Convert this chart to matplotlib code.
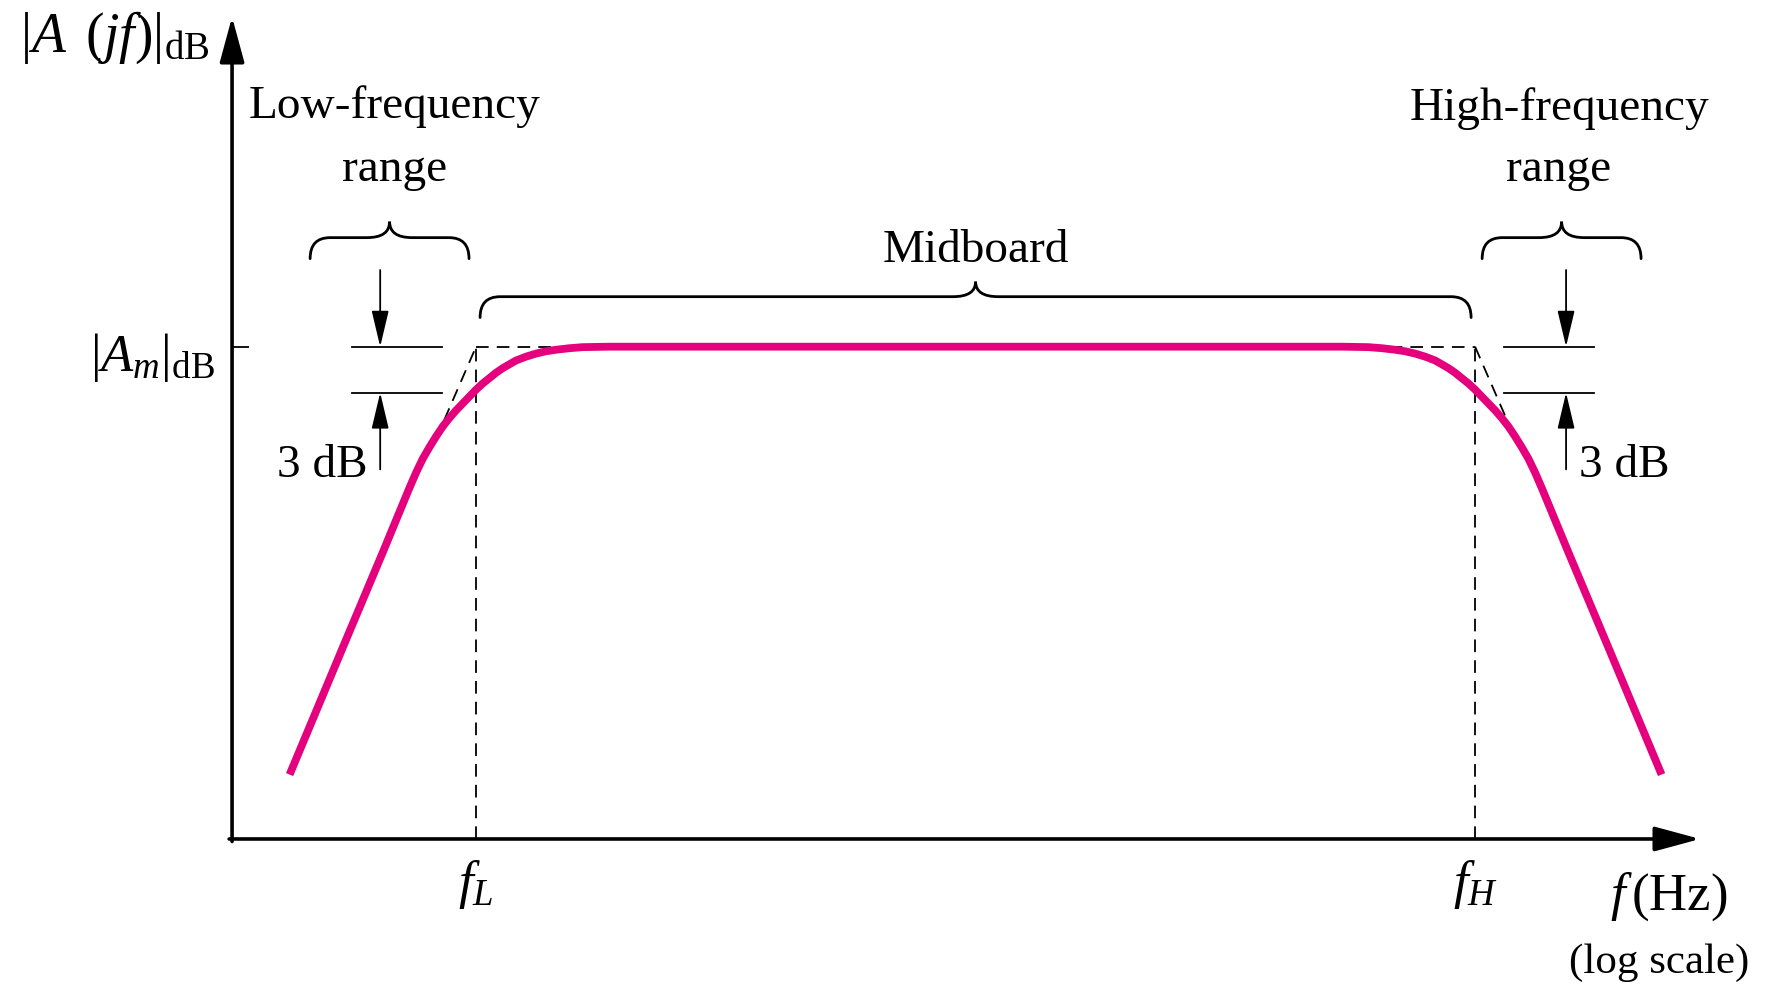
import matplotlib.pyplot as plt
import numpy as np
from matplotlib.patches import PathPatch
from matplotlib.path import Path
from matplotlib.ticker import NullLocator

plt.rcParams["font.family"] = ["Liberation Serif", "DejaVu Serif"]
plt.rcParams["mathtext.fontset"] = "custom"
plt.rcParams["mathtext.rm"] = "Liberation Serif"
plt.rcParams["mathtext.it"] = "Liberation Serif:italic"

# corner frequencies (Hz) and midband gain (dB)
F_L = 1e2
F_H = 10 ** 9.5
A_M = 40.0

# low-frequency skirt: decades from f_L and gain (dB)
LOW_DECADES = [-1.40, -1.00, -0.70, -0.50, -0.45, -0.40, -0.35, -0.30, -0.25,
               -0.20, -0.15, -0.10, -0.05, 0.00, 0.05, 0.10, 0.15, 0.20, 0.25,
               0.30, 0.375, 0.45, 0.525, 0.60, 0.70, 0.80, 1.00]
LOW_GAIN = [12.1, 20.4, 26.6, 30.8, 31.8, 32.7, 33.45, 34.15, 34.8,
            35.35, 35.85, 36.3, 36.75, 37.2, 37.6, 37.95, 38.3, 38.6, 38.85,
            39.1, 39.35, 39.55, 39.7, 39.8, 39.9, 39.97, 40.0]

# high-frequency skirt: decades from f_H and gain (dB)
HIGH_DECADES = [-1.00, -0.80, -0.70, -0.60, -0.525, -0.45, -0.375, -0.30, -0.25,
                -0.20, -0.15, -0.10, -0.05, 0.00, 0.05, 0.10, 0.15, 0.20, 0.25,
                0.30, 0.35, 0.40, 0.45, 0.50, 0.70, 1.00, 1.40]
HIGH_GAIN = [40.0, 39.97, 39.9, 39.8, 39.7, 39.55, 39.35, 39.1, 38.85,
             38.6, 38.3, 37.95, 37.6, 37.2, 36.75, 36.3, 35.85, 35.35, 34.8,
             34.15, 33.45, 32.7, 31.8, 30.8, 26.6, 20.4, 12.1]

FS = 34
FS_MATH = 38
PINK = "#E5007E"

freq = np.concatenate([F_L * 10 ** np.array(LOW_DECADES),
                       F_H * 10 ** np.array(HIGH_DECADES)])
gain = np.array(LOW_GAIN + HIGH_GAIN)

fig = plt.figure(figsize=(17.92, 9.91), dpi=100)
ax = fig.add_axes([0.1295, 0.1534, 0.8192, 0.8295])
ax.set_xscale("log")
ax.set_xlim(F_L * 10 ** -1.832, F_L * 10 ** 9.189)
ax.set_ylim(7.9, 61.5)
for sp in ax.spines.values():
    sp.set_visible(False)
ymin = ax.get_ylim()[0]

# axes with arrow heads
axis_arrow = dict(arrowstyle="-|>,head_length=1.4,head_width=0.38", color="black",
                  lw=2.6, mutation_scale=20, shrinkA=0, shrinkB=0)
ax.annotate("", xy=(1, 0), xytext=(-0.002, 0), xycoords="axes fraction",
            arrowprops=axis_arrow, annotation_clip=False)
ax.annotate("", xy=(0, 1), xytext=(0, -0.003), xycoords="axes fraction",
            arrowprops=axis_arrow, annotation_clip=False)

# ticks: f_L, f_H on x and the midband level on y
ax.set_xticks([F_L, F_H], labels=[r"$f_L$", r"$f_H$"])
ax.xaxis.set_minor_locator(NullLocator())
ax.tick_params(axis="x", length=0, pad=14, labelsize=FS_MATH)
ax.set_yticks([A_M], labels=[""])
ax.tick_params(axis="y", direction="in", length=12, width=1.3)

# asymptotes and corner markers
dash = dict(color="black", lw=1.3, dashes=(7, 4.5), zorder=2)
ax.plot([F_L, F_L], [ymin, A_M], **dash)
ax.plot([F_H, F_H], [ymin, A_M], **dash)
ax.plot([F_L, F_H], [A_M, A_M], **dash)
ax.plot([F_L / 2, F_L], [A_M - 6.02, A_M], **dash)
ax.plot([F_H, F_H * 2], [A_M, A_M - 6.02], **dash)

# response curve
ax.plot(freq, gain, color=PINK, lw=5.6, solid_capstyle="butt",
        solid_joinstyle="round", zorder=3)

small_arrow = dict(arrowstyle="-|>,head_length=1.6,head_width=0.38", color="black",
                   lw=1.3, mutation_scale=14, shrinkA=0, shrinkB=0)


def three_db(f_lo, f_hi, f_arrow, f_text, ha):
    for level in (A_M, A_M - 3):
        ax.plot([f_lo, f_hi], [level, level], color="black", lw=1.3)
    ax.annotate("", xy=(f_arrow, A_M), xytext=(f_arrow, A_M + 5),
                arrowprops=small_arrow)
    ax.annotate("", xy=(f_arrow, A_M - 3), xytext=(f_arrow, A_M - 8),
                arrowprops=small_arrow)
    ax.text(f_text, A_M - 8.5, "3 dB", ha=ha, va="baseline", fontsize=FS)


three_db(F_L * 10 ** -0.93, F_L * 10 ** -0.255, F_L * 10 ** -0.72,
         F_L * 10 ** -0.818, "right")
three_db(F_H * 10 ** 0.218, F_H * 10 ** 0.893, F_H * 10 ** 0.683,
         F_H * 10 ** 0.781, "left")


def brace(f0, f1, y_tip, y_flat, y_peak, r=0.15, s=0.17):
    # built in decades so the curves stay symmetric on the log axis
    x0, x1 = np.log10(f0), np.log10(f1)
    xc = 0.5 * (x0 + x1)
    pts = [(x0, y_tip), (x0, y_flat), (x0 + r, y_flat),
           (xc - s, y_flat), (xc, y_flat), (xc, y_peak),
           (xc, y_flat), (xc + s, y_flat),
           (x1 - r, y_flat), (x1, y_flat), (x1, y_tip)]
    codes = [Path.MOVETO, Path.CURVE3, Path.CURVE3, Path.LINETO,
             Path.CURVE3, Path.CURVE3, Path.CURVE3, Path.CURVE3,
             Path.LINETO, Path.CURVE3, Path.CURVE3]
    verts = [(10 ** x, y) for x, y in pts]
    ax.add_patch(PathPatch(Path(verts, codes), fill=False, lw=2.0,
                           edgecolor="black", capstyle="round"))


brace(F_L * 10 ** -1.246, F_L * 10 ** -0.053, 45.74, 47.11, 48.15)
brace(F_H * 10 ** 0.053, F_H * 10 ** 1.246, 45.74, 47.11, 48.15)
brace(F_L * 10 ** 0.03, F_H * 10 ** -0.03, 41.9, 43.26, 44.24)

# region labels
ax.text(F_L * 10 ** -0.61, 54.9, "Low-frequency", ha="center", va="baseline", fontsize=FS)
ax.text(F_L * 10 ** -0.61, 50.8, "range", ha="center", va="baseline", fontsize=FS)
ax.text(F_H * 10 ** 0.63, 54.8, "High-frequency", ha="center", va="baseline", fontsize=FS)
ax.text(F_H * 10 ** 0.63, 50.8, "range", ha="center", va="baseline", fontsize=FS)
ax.text(np.sqrt(F_L * F_H), 45.5, "Midboard", ha="center", va="baseline", fontsize=FS)

# axis labels
ytrans = ax.get_yaxis_transform()
xtrans = ax.get_xaxis_transform()
ax.text(-0.015, 59.2, r"$|A\ \,(jf)|_{\mathrm{dB}}$", transform=ytrans,
        ha="right", va="baseline", fontsize=40)
ax.text(-0.012, 38.4, r"$|A_m|_{\mathrm{dB}}$", transform=ytrans,
        ha="right", va="baseline", fontsize=FS_MATH)
ax.text(F_H * 10 ** 1.45, -0.07, r"$f\,(\mathrm{Hz})$", transform=xtrans,
        ha="center", va="center", fontsize=FS_MATH)
ax.text(F_H * 10 ** 1.38, -0.15, "(log scale)", transform=xtrans,
        ha="center", va="center", fontsize=31)

fig.savefig("out.png", dpi=100, facecolor="white")
